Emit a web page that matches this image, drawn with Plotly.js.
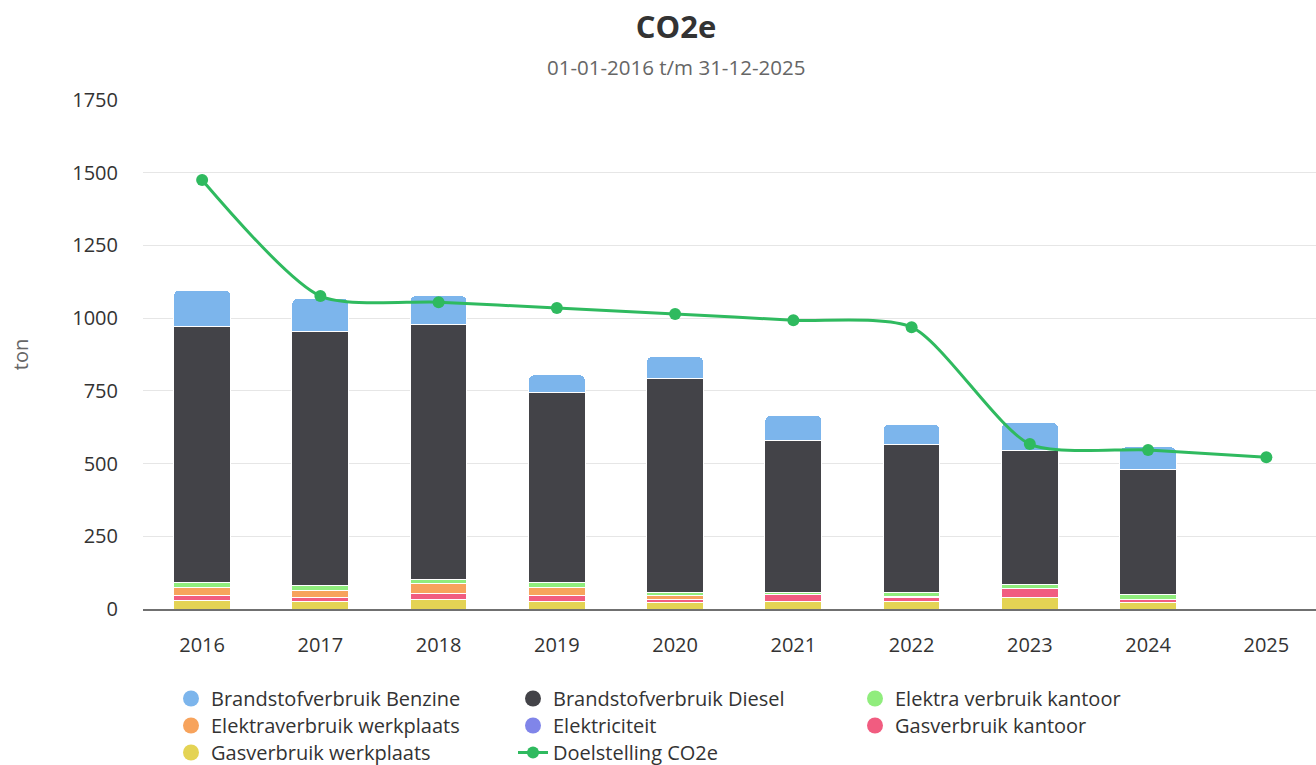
<!DOCTYPE html>
<html>
<head>
<meta charset="utf-8">
<script src="https://cdn.plot.ly/plotly-3.0.1.min.js"></script>
<style>html,body{margin:0;padding:0;background:#fff;overflow:hidden}#chart{width:1316px;height:765px}</style>
</head>
<body>
<div id="chart"></div>
<script>
const years = ['2016','2017','2018','2019','2020','2021','2022','2023','2024','2025'];
const gasWerkplaats   = [29, 26, 31, 27, 21, 27, 26, 38, 21, null];
const gasKantoor      = [17, 15, 22, 20, 10, 22, 15, 32, 10, null];
const elektriciteit   = [0, 0, 0, 0, 0, 0, 0, 0, 0, null];
const elektraWerkplaats = [27, 24, 33, 27, 17, 0, 3, 0, 0, null];
const elektraKantoor  = [17, 15, 16, 17, 10, 9, 12, 14, 19, null];
const diesel          = [882, 875, 877, 652, 734, 521, 510, 461, 431, null];
const benzine         = [124, 113, 98, 62, 76, 86, 69, 96, 76, null];
const doelstelling    = [1475, 1076, 1055, 1035, 1014, 993, 969, 567, 547, 522];

const names = {
  benzine: 'Brandstofverbruik Benzine',
  diesel: 'Brandstofverbruik Diesel',
  elektraKantoor: 'Elektra verbruik kantoor',
  elektraWerkplaats: 'Elektraverbruik werkplaats',
  elektriciteit: 'Elektriciteit',
  gasKantoor: 'Gasverbruik kantoor',
  gasWerkplaats: 'Gasverbruik werkplaats',
  doel: 'Doelstelling CO2e'
};
const colors = {
  benzine: '#7cb5ec', diesel: '#434348', elektraKantoor: '#90ed7d',
  elektraWerkplaats: '#f7a35c', elektriciteit: '#8085e9', gasKantoor: '#f15c80',
  gasWerkplaats: '#e4d354', doel: '#2fba5f'
};

function bar(key, vals) {
  return {
    type: 'bar', x: years, y: vals, name: names[key], showlegend: false,
    width: 0.48, hoverinfo: 'x+y+name',
    marker: {color: colors[key], line: {color: '#ffffff', width: 1}}
  };
}
function legendDot(key, rank, leg) {
  return {
    type: 'scatter', mode: 'markers', x: [null], y: [null], name: names[key],
    legendrank: rank, legend: leg, hoverinfo: 'skip',
    marker: {symbol: 'circle', size: 18, color: colors[key]}
  };
}

const traces = [
  bar('gasWerkplaats', gasWerkplaats),
  bar('gasKantoor', gasKantoor),
  bar('elektriciteit', elektriciteit),
  bar('elektraWerkplaats', elektraWerkplaats),
  bar('elektraKantoor', elektraKantoor),
  bar('diesel', diesel),
  bar('benzine', benzine),
  {
    type: 'scatter', mode: 'lines+markers', x: years, y: doelstelling,
    name: names.doel, legendrank: 8, legend: 'legend3',
    line: {color: colors.doel, width: 3, shape: 'spline', smoothing: 0.7},
    marker: {color: colors.doel, size: 12}
  },
  legendDot('benzine', 1, 'legend'),
  legendDot('diesel', 2, 'legend'),
  legendDot('elektraKantoor', 3, 'legend'),
  legendDot('elektraWerkplaats', 4, 'legend2'),
  legendDot('elektriciteit', 5, 'legend2'),
  legendDot('gasKantoor', 6, 'legend2'),
  legendDot('gasWerkplaats', 7, 'legend3')
];

function legendRow(topPx) {
  return {
    orientation: 'h', x: 171/1316, xref: 'container', xanchor: 'left',
    y: 1 - topPx/765, yref: 'container', yanchor: 'top',
    entrywidth: 297, entrywidthmode: 'pixels',
    font: {size: 20, color: '#333333'}, traceorder: 'normal',
    itemsizing: 'trace', bgcolor: 'rgba(0,0,0,0)'
  };
}

const layout = {
  width: 1316, height: 765,
  margin: {l: 143, r: 0, t: 100, b: 156},
  paper_bgcolor: '#ffffff', plot_bgcolor: '#ffffff',
  font: {family: '"Open Sans", sans-serif', color: '#333333', size: 20},
  barmode: 'stack',
  barcornerradius: 5,
  title: {
    text: '<b>CO2e</b>', x: 676/1316, xanchor: 'center', xref: 'container',
    y: 1 - 27/765, yanchor: 'middle', yref: 'container',
    font: {size: 31, color: '#333333', family: '"Open Sans", sans-serif'}
  },
  annotations: [{
    text: '01-01-2016 t/m 31-12-2025', xref: 'paper', yref: 'paper',
    x: (675.5 - 143) / 1173, y: 1 + (100 - 67) / 509, xanchor: 'center', yanchor: 'middle',
    showarrow: false, font: {size: 20.5, color: '#666666'}
  }],
  xaxis: {
    type: 'category', range: [-0.5, 9.42], showgrid: false,
    showline: true, linecolor: '#707070', linewidth: 2,
    ticks: '', ticklabelstandoff: 17, tickfont: {size: 20, color: '#333333'},
    fixedrange: true
  },
  yaxis: {
    range: [0, 1750], tickvals: [0, 250, 500, 750, 1000, 1250, 1500, 1750],
    showgrid: true, gridcolor: '#e6e6e6', gridwidth: 1, zeroline: false,
    ticks: '', ticklabelstandoff: 24, tickfont: {size: 20, color: '#333333'},
    title: {text: 'ton', standoff: 38, font: {size: 20, color: '#666666'}},
    automargin: false, fixedrange: true
  },
  showlegend: true,
  legend: legendRow(679),
  legend2: legendRow(706),
  legend3: legendRow(733),
  hovermode: 'closest'
};

Plotly.newPlot('chart', traces, layout, {displayModeBar: false, staticPlot: false});
</script>
</body>
</html>
